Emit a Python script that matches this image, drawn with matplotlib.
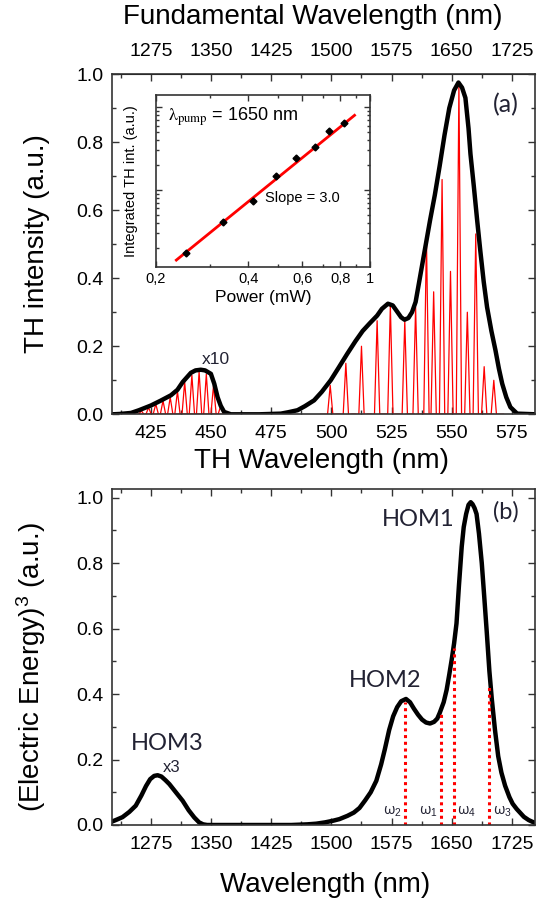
import numpy as np
import matplotlib.pyplot as plt
from matplotlib.ticker import MultipleLocator, FixedLocator, NullFormatter

plt.rcParams['font.family'] = ['Liberation Sans', 'DejaVu Sans']
plt.rcParams['mathtext.fontset'] = 'custom'
plt.rcParams['mathtext.rm'] = 'Liberation Sans'
plt.rcParams['mathtext.it'] = 'Liberation Sans:italic'

# ---- panel (a): TH spectrum envelope (x10 on the left band)
th_nm = [409, 412, 416.7, 420, 425, 429, 433.3, 436, 438.2, 441.6, 443.5, 445.7, 447.5,
         449.9, 451.3, 452.7, 454, 455.4, 458.2, 470, 479, 482, 485.9, 489, 492.8, 496,
         499.7, 503, 506.6, 510, 513, 516, 519, 521, 523.5, 525.5, 527.5, 529, 530.4,
         532, 533.5, 535, 537, 539, 541, 543, 545, 547, 549, 551, 552.8, 554.3, 555.7,
         557, 557.8, 559.2, 560.6, 561.9, 563.3, 564.7, 566.5, 568.2, 569.6, 571, 572.7,
         574.4, 577.2, 585]
th_int = [0, 0.001, 0.004, 0.012, 0.026, 0.04, 0.056, 0.072, 0.095, 0.122, 0.129, 0.131,
          0.129, 0.119, 0.09, 0.05, 0.025, 0.007, 0, 0, 0.002, 0.006, 0.012, 0.024, 0.041,
          0.066, 0.1, 0.137, 0.178, 0.215, 0.245, 0.268, 0.29, 0.31, 0.325, 0.32, 0.3,
          0.285, 0.278, 0.283, 0.3, 0.33, 0.41, 0.49, 0.57, 0.645, 0.73, 0.82, 0.9, 0.952,
          0.975, 0.96, 0.93, 0.84, 0.765, 0.67, 0.569, 0.48, 0.39, 0.315, 0.245, 0.188,
          0.135, 0.09, 0.05, 0.021, 0.002, 0]

# individual TH spectra (red): centre wavelength and peak height
spec_nm = [421, 424, 427, 430, 433, 436, 439, 442, 445, 448, 451, 454,
           499.5, 506, 512.5, 519, 524.5, 530.5, 535, 539.5, 542.5, 546, 549.5, 553,
           556.5, 560, 563.5, 567.5]
spec_h = [0.01, 0.02, 0.03, 0.04, 0.05, 0.068, 0.095, 0.115, 0.125, 0.118, 0.085, 0.025,
          0.085, 0.15, 0.2, 0.275, 0.32, 0.275, 0.315, 0.52, 0.36, 0.69, 0.42, 0.97,
          0.3, 0.53, 0.14, 0.1]

# inset: integrated TH vs pump power (log-log)
power_mw = [0.25, 0.332, 0.415, 0.494, 0.575, 0.66, 0.734, 0.824]
th_integ = [1.76, 4.11, 7.43, 14.75, 24.3, 33.2, 51.8, 63.6]
fit_x = [0.233, 0.89]
fit_y = [1.43, 79.7]

# ---- panel (b): simulated (electric energy)^3
wl_nm = [1226, 1232, 1239.5, 1248, 1256, 1263, 1268.8, 1274, 1279, 1283.3, 1288, 1293,
         1297.9, 1306, 1314.5, 1322, 1329, 1335, 1340, 1345, 1450, 1470, 1481, 1492, 1502,
         1510, 1520, 1528, 1535, 1542, 1549, 1556, 1562, 1566.6, 1572, 1577, 1582, 1587,
         1593, 1598, 1603, 1608, 1613, 1618, 1623, 1628, 1632, 1635, 1640, 1643.7, 1647,
         1650, 1653, 1656, 1659, 1662.5, 1665, 1668, 1671, 1673.7, 1676, 1678.5, 1681,
         1684, 1687.5, 1690.5, 1693.7, 1697, 1700, 1704, 1708, 1712, 1716.6, 1722, 1726,
         1731, 1740, 1746, 1754]
energy3 = [0.01, 0.016, 0.024, 0.04, 0.059, 0.09, 0.119, 0.14, 0.15, 0.152, 0.148, 0.137,
           0.125, 0.1, 0.074, 0.045, 0.023, 0.008, 0.002, 0, 0, 0.002, 0.004, 0.008, 0.013,
           0.018, 0.028, 0.038, 0.052, 0.075, 0.1, 0.135, 0.185, 0.231, 0.29, 0.332, 0.36,
           0.378, 0.385, 0.375, 0.355, 0.337, 0.322, 0.313, 0.31, 0.315, 0.325, 0.342, 0.375,
           0.413, 0.46, 0.505, 0.555, 0.616, 0.73, 0.85, 0.91, 0.95, 0.978, 0.986, 0.98,
           0.968, 0.95, 0.89, 0.8, 0.7, 0.59, 0.47, 0.385, 0.29, 0.21, 0.16, 0.12, 0.085,
           0.065, 0.049, 0.025, 0.015, 0.006]

omega_labels = ['ω$_2$', 'ω$_1$', 'ω$_4$', 'ω$_3$']
omega_nm = [1591.5, 1637, 1653, 1697]
omega_h = [0.375, 0.342, 0.54, 0.43]
omega_side = ['right', 'right', 'left', 'left']

fund_ticks = [1275, 1350, 1425, 1500, 1575, 1650, 1725]
th_ticks = [425, 450, 475, 500, 525, 550, 575]

fig = plt.figure(figsize=(5.38, 9.05), dpi=100)


def style(ax, top=True, size=14):
    ax.tick_params(which='both', direction='in', top=top, right=True, labelsize=size,
                   width=1, color='#333333')
    ax.tick_params(which='major', length=5, pad=6)
    ax.tick_params(which='minor', length=3)
    ax.tick_params(axis='x', which='major', pad=8)
    for s in ax.spines.values():
        s.set_linewidth(1.2)
        s.set_color('#333333')


# ---------------- (a)
ax_a = fig.add_axes([0.2076, 0.5422, 0.787, 0.376])
for c, h in zip(spec_nm, spec_h):
    ax_a.plot([c - 4, c - 1.1, c, c + 1.1, c + 4], [0, 0, h, 0, 0], color='red', lw=0.9)
ax_a.plot(th_nm, th_int, color='black', lw=3.2, solid_joinstyle='round')
ax_a.set_xlim(1226 / 3, 1754 / 3)
ax_a.set_ylim(0, 1.0)
ax_a.set_xticks(th_ticks)
ax_a.xaxis.set_minor_locator(MultipleLocator(12.5))
ax_a.set_yticks(np.arange(0, 1.01, 0.2))
ax_a.yaxis.set_minor_locator(MultipleLocator(0.1))
ax_a.yaxis.set_major_formatter(lambda v, p: f'{v:.1f}')
style(ax_a, top=False)

sec = ax_a.secondary_xaxis('top', functions=(lambda x: x * 3, lambda x: x / 3))
sec.set_xticks(fund_ticks)
sec.xaxis.set_minor_locator(MultipleLocator(37.5))
sec.tick_params(which='both', direction='in', labelsize=14, width=1, color='#333333')
sec.tick_params(which='major', length=5, pad=10)
sec.tick_params(which='minor', length=3)

ax_a.text(452, 0.16, 'x10', fontsize=12.5, ha='center', va='center', color='#222233')
ax_a.text(0.93, 0.91, '(a)', transform=ax_a.transAxes, fontsize=18, family='Lato',
          ha='center', va='center', color='#222233')

fig.text(37.5 / 538, 1 - 244 / 905, 'TH intensity (a.u.)', rotation=90, fontsize=20,
         ha='center', va='center')
fig.text(322 / 538, 1 - 461 / 905, 'TH Wavelength (nm)', fontsize=20, ha='center',
         va='center')
fig.text(313 / 538, 1 - 17.5 / 905, 'Fundamental Wavelength (nm)', fontsize=20,
         ha='center', va='center')

# inset
ax_in = fig.add_axes([0.29, 0.7053, 0.3978, 0.1897])
ax_in.plot(fit_x, fit_y, color='red', lw=2)
ax_in.plot(power_mw, th_integ, 'D', color='black', ms=3.5)
ax_in.set_xscale('log')
ax_in.set_yscale('log')
ax_in.set_xlim(0.2, 1.0)
ax_in.set_ylim(1.19, 140)
ax_in.xaxis.set_major_locator(FixedLocator([0.2, 0.4, 0.6, 0.8, 1.0]))
ax_in.xaxis.set_minor_locator(FixedLocator([0.3, 0.5, 0.7, 0.9]))
ax_in.xaxis.set_major_formatter(lambda v, p: f'{v:g}'.replace('.', ','))
ax_in.xaxis.set_minor_formatter(NullFormatter())
ax_in.yaxis.set_major_formatter(NullFormatter())
ax_in.yaxis.set_minor_formatter(NullFormatter())
style(ax_in, size=10.5)
ax_in.tick_params(which='major', length=4, pad=4)
ax_in.tick_params(which='minor', length=2)
ax_in.set_xlabel('Power (mW)', fontsize=12.5, labelpad=3)
ax_in.text(0.056, 0.874, r'$\mathrm{\lambda}_{\rm pump}$ = 1650 nm',
           transform=ax_in.transAxes, fontsize=13, va='center', math_fontfamily='stix')
ax_in.text(0.51, 0.40, 'Slope = 3.0', transform=ax_in.transAxes, fontsize=10.5,
           va='center')
fig.text(131 / 538, 1 - 181 / 905, 'Integrated TH int. (a.u.)', rotation=90, fontsize=10.5,
         ha='center', va='center')

# ---------------- (b)
ax_b = fig.add_axes([0.2076, 0.0884, 0.787, 0.3708])
ax_b.plot(wl_nm, energy3, color='black', lw=3.2, solid_joinstyle='round')
ax_b.vlines(omega_nm, 0, omega_h, colors='red', linestyles=(0, (1, 1.2)), lw=2.2)
for lab, x, side in zip(omega_labels, omega_nm, omega_side):
    dx = -4 if side == 'right' else 4
    ax_b.text(x + dx, 0.04, lab, fontsize=10.5, ha=side, va='center', color='#222233',
              family=['Open Sans', 'DejaVu Sans'])
ax_b.set_xlim(1226, 1754)
ax_b.set_ylim(0, 1.025)
ax_b.set_xticks(fund_ticks)
ax_b.xaxis.set_minor_locator(MultipleLocator(37.5))
ax_b.set_yticks(np.arange(0, 1.01, 0.2))
ax_b.yaxis.set_minor_locator(MultipleLocator(0.1))
ax_b.yaxis.set_major_formatter(lambda v, p: f'{v:.1f}')
style(ax_b)

hom_font = dict(fontsize=17, family='Lato', ha='center', va='center', color='#222233')
ax_b.text(1608, 0.933, 'HOM1', **hom_font)
ax_b.text(1567, 0.44, 'HOM2', **hom_font)
ax_b.text(1295, 0.25, 'HOM3', **hom_font)
ax_b.text(1301, 0.176, 'x3', fontsize=12, ha='center', va='center', color='#222233')
ax_b.text(0.93, 0.932, '(b)', transform=ax_b.transAxes, **hom_font)

fig.text(31 / 538, 1 - 667 / 905, '(Electric Energy)$^3$ (a.u.)', rotation=90, fontsize=20,
         ha='center', va='center')
fig.text(325 / 538, 1 - 885 / 905, 'Wavelength (nm)', fontsize=20, ha='center',
         va='center')

fig.savefig('out.png', dpi=100)
